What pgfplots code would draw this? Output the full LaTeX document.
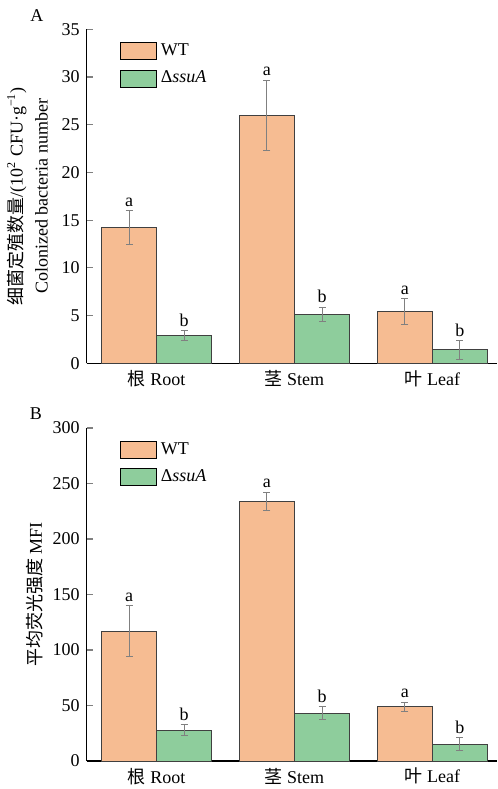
\documentclass[border=0pt]{standalone}
\usepackage{pgfplots}
\pgfplotsset{compat=1.18}
\usepackage{fontspec}
\setmainfont{Liberation Serif}
\newfontfamily\cjk{Noto Sans CJK SC}
\definecolor{wtc}{HTML}{F6BC92}
\definecolor{muc}{HTML}{8ECD9C}
\definecolor{edgec}{HTML}{404040}
\definecolor{errc}{HTML}{808080}

\pgfplotsset{
 mystyle/.style={
  width=205pt, scale only axis,
  axis x line=bottom, axis y line=left, axis line style={-, line width=0.7pt},
  xmin=-0.507, xmax=2.467, ymin=0,
  xtick={0,1,2}, xticklabels={{\cjk 根} Root, {\cjk 茎} Stem, {\cjk 叶} Leaf},
  xtick style={draw=none},
  ytick style={line width=0.6pt}, tick align=inside, major tick length=3pt,
  tick label style={font=\fontsize{9}{10}\selectfont},
  /pgf/number format/assume math mode=true,
  label style={font=\fontsize{9}{12.5}\selectfont},
  legend style={draw=none, fill=none, font=\fontsize{9}{10}\selectfont, at={(0.08,0.97)}, anchor=north west, row sep=2.3pt, inner sep=0pt},
  legend cell align=left,
  clip=false,
 },
 barbase/.style={ybar, bar width=0.4, bar shift=0pt, draw=edgec, line width=0.5pt,
   error bars/y dir=both, error bars/y explicit,
   error bars/error bar style={errc, line width=0.5pt},
   error bars/error mark options={rotate=90, mark size=1.75pt, errc, line width=0.5pt}},
 wtbar/.style={barbase, fill=wtc, legend image code/.code={\draw[fill=wtc, draw=black, line width=0.5pt] (0pt,-4.25pt) rectangle (18pt,4.25pt);}},
 mubar/.style={barbase, fill=muc, legend image code/.code={\draw[fill=muc, draw=black, line width=0.5pt] (0pt,-4.25pt) rectangle (18pt,4.25pt);}},
}
\tikzset{sig/.style={font=\fontsize{9}{10}\selectfont, anchor=base, inner sep=0pt, yshift=2.2pt}}

\begin{document}
\begin{tikzpicture}
\useasboundingbox (0,0) rectangle (249pt,-394.5pt);
\node[font=\fontsize{9}{10}\selectfont] at (18.5pt,-8pt) {A};
\node[font=\fontsize{9}{10}\selectfont] at (18pt,-206.75pt) {B};

\begin{axis}[mystyle, at={(43.35pt,-181.65pt)}, anchor=south west, height=167pt,
  ymax=35, ytick={0,5,...,35},
  ylabel={{\cjk 细菌定殖数量}/(10\textsuperscript{2} CFU·g\textsuperscript{−1})\\Colonized bacteria number},
  ylabel style={at={(axis description cs:-0.1444,0.5)}, anchor=center, align=center}]
\addplot[wtbar] table[x=x, y=y, y error=e] {
x y e
-0.2 14.2 1.8
0.8 26.0 3.65
1.8 5.4 1.35
};
\addlegendentry{WT}
\addplot[mubar] table[x=x, y=y, y error=e] {
x y e
0.2 2.93 0.5
1.2 5.1 0.77
2.2 1.4 1.0
};
\addlegendentry{Δ\textit{ssuA}}
\node[sig] at (axis cs:-0.2,16.0) {a};
\node[sig] at (axis cs:0.2,3.43) {b};
\node[sig] at (axis cs:0.8,29.65) {a};
\node[sig] at (axis cs:1.2,5.87) {b};
\node[sig] at (axis cs:1.8,6.75) {a};
\node[sig] at (axis cs:2.2,2.4) {b};
\end{axis}

\begin{axis}[mystyle, at={(43.35pt,-380.5pt)}, anchor=south west, height=166.5pt,
  ymax=300, ytick={0,50,...,300},
  ylabel={{\cjk 平均荧光强度} MFI},
  ylabel style={at={(axis description cs:-0.126,0.5)}, anchor=center}]
\addplot[wtbar] table[x=x, y=y, y error=e] {
x y e
-0.2 117 23
0.8 234 8
1.8 49 4
};
\addlegendentry{WT}
\addplot[mubar] table[x=x, y=y, y error=e] {
x y e
0.2 27.9 5
1.2 43 6
2.2 15 5.8
};
\addlegendentry{Δ\textit{ssuA}}
\node[sig] at (axis cs:-0.2,140) {a};
\node[sig] at (axis cs:0.2,32.9) {b};
\node[sig] at (axis cs:0.8,242) {a};
\node[sig] at (axis cs:1.2,49) {b};
\node[sig] at (axis cs:1.8,53) {a};
\node[sig] at (axis cs:2.2,20.8) {b};
\end{axis}
\end{tikzpicture}
\end{document}
